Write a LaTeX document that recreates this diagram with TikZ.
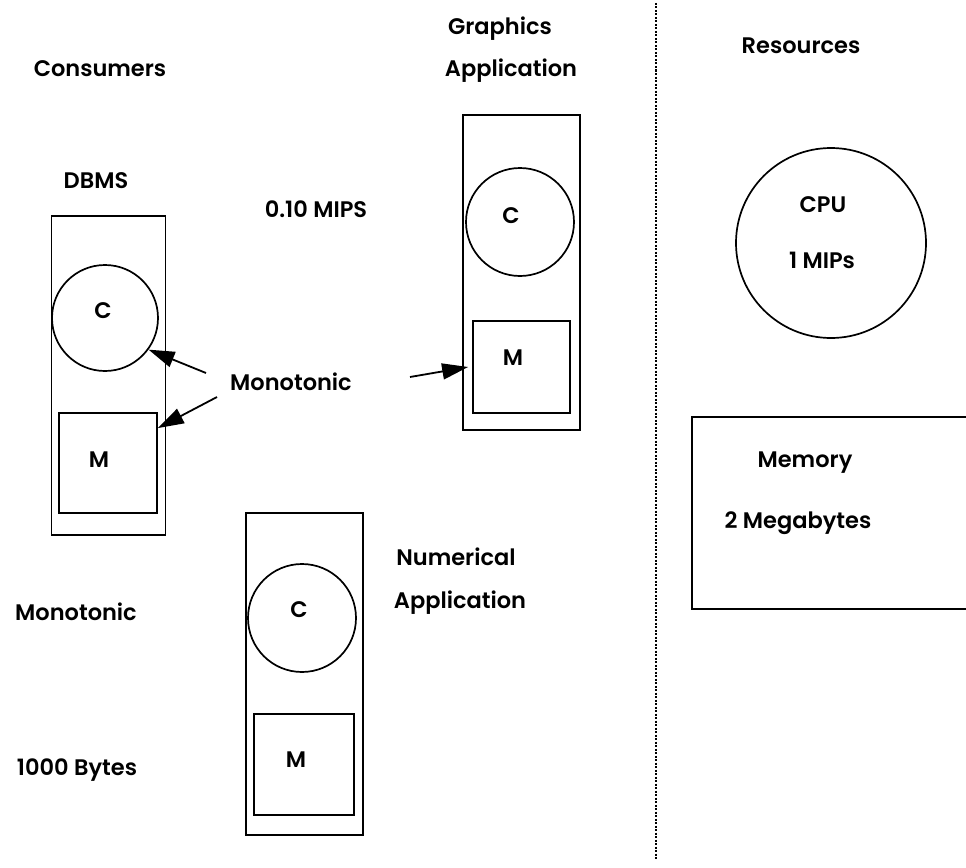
\documentclass[tikz,border=0pt]{standalone}
\usepackage{fontspec}
\setmainfont{Poppins}[UprightFont={* SemiBold}]
\usetikzlibrary{arrows.meta}
\tikzset{
  lbl/.style={font=\fontsize{22.5}{27}\selectfont, anchor=base, inner sep=0pt},
  frame/.style={draw, line width=1.7pt, rectangle, inner sep=0pt},
  unit/.style={draw, line width=1.7pt, circle, inner sep=0pt},
  arr/.style={line width=1.8pt, -{Triangle[length=26pt,width=16pt]}},
  divider/.style={line width=1.1pt, dash pattern=on 2pt off 1.5pt}
}
\begin{document}
\begin{tikzpicture}[x=1pt,y=-1pt]
\useasboundingbox (0,0) rectangle (966,867);

% section headings
\node[lbl] (consumers) at (100,77) {Consumers};
\node[lbl] (resources) at (801,53) {Resources};

% divider between consumers and resources
\coordinate (divtop) at (656,3);
\coordinate (divbot) at (656,860);
\draw[divider] (divtop) -- (divbot);

% DBMS consumer
\node[lbl] (dbmslbl) at (96,188) {DBMS};
\node[frame, minimum width=114pt, minimum height=319pt] (dbms) at (108.5,375.5) {};
\node[unit, minimum size=106pt] (dbmsC) at (105,318) {};
\node[lbl] (dbmsCl) at (103,318) {C};
\node[frame, minimum width=98pt, minimum height=100pt] (dbmsM) at (108,463) {};
\node[lbl] (dbmsMl) at (99,467) {M};

% graphics application consumer
\node[lbl] (gfx1) at (500,35) {Graphics};
\node[lbl] (gfx2) at (511,77) {Application};
\node[lbl] (mips) at (316,217) {0.10 MIPS};
\node[frame, minimum width=117pt, minimum height=315pt] (gfx) at (521.5,272.5) {};
\node[unit, minimum size=108pt] (gfxC) at (520,222) {};
\node[lbl] (gfxCl) at (511,223) {C};
\node[frame, minimum width=97pt, minimum height=92pt] (gfxM) at (521.5,367) {};
\node[lbl] (gfxMl) at (513,365) {M};

% monotonic annotations
\node[lbl] (mono) at (291,390) {Monotonic};
\coordinate (t1) at (206,373);
\coordinate (t2) at (217,397);
\coordinate (t3) at (410,377);
\draw[arr] (t1) -- (dbmsC.-36);
\draw[arr] (t2) -- (dbmsM.35);
\draw[arr] (t3) -- ([xshift=-4pt]gfxM.west);

% numerical application consumer
\node[lbl] (num1) at (456,565) {Numerical};
\node[lbl] (num2) at (460,608) {Application};
\node[frame, minimum width=117pt, minimum height=322pt] (num) at (304.5,674) {};
\node[unit, minimum size=108pt] (numC) at (302,618) {};
\node[lbl] (numCl) at (299,617) {C};
\node[frame, minimum width=100pt, minimum height=101pt] (numM) at (304,764.5) {};
\node[lbl] (numMl) at (296,767) {M};

% left column notes
\node[lbl] (monoL) at (76,620) {Monotonic};
\node[lbl] (bytes) at (77,775) {1000 Bytes};

% resources
\node[unit, minimum size=190pt] (cpu) at (831,243) {};
\node[lbl] (cpul) at (823,212) {CPU};
\node[lbl] (cpur) at (822,268) {1 MIPs};
\coordinate (memtr) at (966,417);
\coordinate (memtl) at (692,417);
\coordinate (membl) at (692,609);
\coordinate (membr) at (966,609);
\draw[line width=1.7pt] (memtr) -- (memtl) -- (membl) -- (membr);
\node[lbl] (meml) at (805,467) {Memory};
\node[lbl] (memr) at (798,528) {2 Megabytes};
\end{tikzpicture}
\end{document}
